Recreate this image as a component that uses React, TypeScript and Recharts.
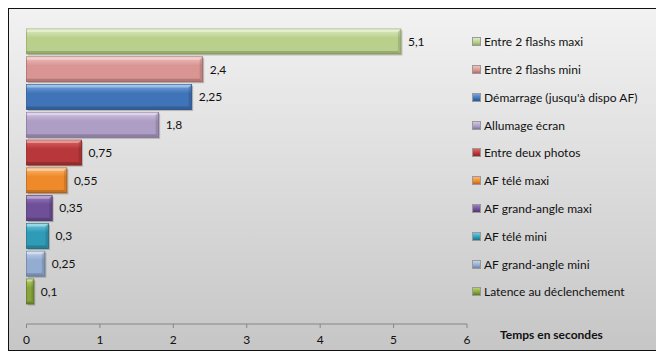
import React from 'react';
import { BarChart, Bar, XAxis, YAxis, Legend, LabelList } from 'recharts';

const seriesNames = [
  'Entre 2 flashs maxi',
  'Entre 2 flashs mini',
  "Démarrage (jusqu'à dispo AF)",
  'Allumage écran',
  'Entre deux photos',
  'AF télé maxi',
  'AF grand-angle maxi',
  'AF télé mini',
  'AF grand-angle mini',
  'Latence au déclenchement',
];
const seriesValues = [5.1, 2.4, 2.25, 1.8, 0.75, 0.55, 0.35, 0.3, 0.25, 0.1];
const categories = ['Temps'];
const xTicks = [0, 1, 2, 3, 4, 5, 6];
const axisTitle = 'Temps en secondes';

const palette = [
  { light: '#dfeac6', base: '#b9d08c', dark: '#93ad5c' },
  { light: '#f0c0bf', base: '#d99592', dark: '#b06866' },
  { light: '#78a6de', base: '#3f74b8', dark: '#2a5690' },
  { light: '#d2c6e2', base: '#ae9dc4', dark: '#85739f' },
  { light: '#df6663', base: '#b8373a', dark: '#8e2624' },
  { light: '#fbb772', base: '#ef8a2b', dark: '#bc6418' },
  { light: '#9a7fbf', base: '#6f4f98', dark: '#503672' },
  { light: '#6fcbe0', base: '#2f9bb6', dark: '#1f7288' },
  { light: '#c2d4ec', base: '#93acd2', dark: '#6a83a8' },
  { light: '#b7d26c', base: '#87a53a', dark: '#627a25' },
];

const data = categories.map((c) => {
  const row: Record<string, string | number> = { name: c };
  seriesNames.forEach((_, i) => {
    row['s' + i] = seriesValues[i];
  });
  return row;
});

const font = 'Lato, "Open Sans", sans-serif';

const makeShape = (i: number) => (props: any) => {
  const { x, y, width, height } = props;
  if (!width || width <= 0) return <g />;
  const c = palette[i];
  const b = Math.min(3, width / 3);
  return (
    <g>
      <rect x={x + 1.5} y={y + 1.5} width={width} height={height} fill="rgba(0,0,0,0.2)" />
      <rect x={x} y={y} width={width} height={height} fill={`url(#grad${i})`} stroke={c.dark} strokeWidth={0.8} />
      <polygon
        points={`${x},${y} ${x + width},${y} ${x + width - b},${y + b} ${x},${y + b}`}
        fill="rgba(255,255,255,0.35)"
      />
      <polygon
        points={`${x + width},${y} ${x + width},${y + height} ${x + width - b},${y + height - b} ${x + width - b},${y + b}`}
        fill="rgba(0,0,0,0.12)"
      />
      <polygon
        points={`${x},${y + height} ${x + width},${y + height} ${x + width - b},${y + height - b} ${x},${y + height - b}`}
        fill="rgba(0,0,0,0.18)"
      />
    </g>
  );
};

const LegendContent = () => (
  <div style={{ width: 185, paddingLeft: 5, boxSizing: 'border-box', fontFamily: font, fontSize: 12, color: '#111' }}>
    {seriesNames.map((n, i) => (
      <div key={n} style={{ height: 27.78, display: 'flex', alignItems: 'center', whiteSpace: 'nowrap' }}>
        <span
          style={{
            display: 'inline-block',
            width: 7,
            height: 7,
            marginRight: 3,
            border: '1px solid #999',
            background: `linear-gradient(${palette[i].light}, ${palette[i].base} 60%, ${palette[i].dark})`,
          }}
        />
        <span>{n}</span>
      </div>
    ))}
  </div>
);

const AxisTitle = (props: any) => {
  const vb = props.viewBox || {};
  return (
    <text
      x={vb.x + vb.width + 33}
      y={vb.y + 10}
      dominantBaseline="central"
      fontFamily={font}
      fontSize={12}
      fontWeight="bold"
      fill="#111"
    >
      {axisTitle}
    </text>
  );
};

export default function App() {
  return (
    <div
      style={{
        width: 647,
        height: 341,
        border: '1px solid #111',
        background: 'linear-gradient(#f2f2f2, #c6c6c6)',
        boxShadow: '2px 2px 3px rgba(0,0,0,0.25)',
      }}
    >
      <BarChart
        width={647}
        height={341}
        data={data}
        layout="vertical"
        margin={{ top: 0, right: 4, bottom: 0, left: 17.5 }}
        barSize={25}
        barGap={2.78}
      >
        <defs>
          {palette.map((c, i) => (
            <linearGradient key={i} id={`grad${i}`} x1="0" y1="0" x2="0" y2="1">
              <stop offset="0%" stopColor={c.light} />
              <stop offset="35%" stopColor={c.base} />
              <stop offset="100%" stopColor={c.base} />
            </linearGradient>
          ))}
        </defs>
        <XAxis
          type="number"
          domain={[0, 6]}
          ticks={xTicks}
          height={26}
          tickSize={4}
          tickMargin={7}
          stroke="#868686"
          tick={{ fill: '#111', fontSize: 12, fontFamily: font }}
          label={<AxisTitle />}
        />
        <YAxis type="category" dataKey="name" hide />
        <Legend
          layout="vertical"
          align="right"
          verticalAlign="top"
          content={<LegendContent />}
          wrapperStyle={{ top: 19 }}
        />
        {seriesNames.map((n, i) => (
          <Bar key={n} dataKey={'s' + i} name={n} fill={palette[i].base} shape={makeShape(i)} isAnimationActive={false}>
            <LabelList
              dataKey={'s' + i}
              position="right"
              offset={7}
              formatter={(v: any) => String(v).replace('.', ',')}
              style={{ fill: '#111', fontSize: 12, fontFamily: font }}
            />
          </Bar>
        ))}
      </BarChart>
    </div>
  );
}
